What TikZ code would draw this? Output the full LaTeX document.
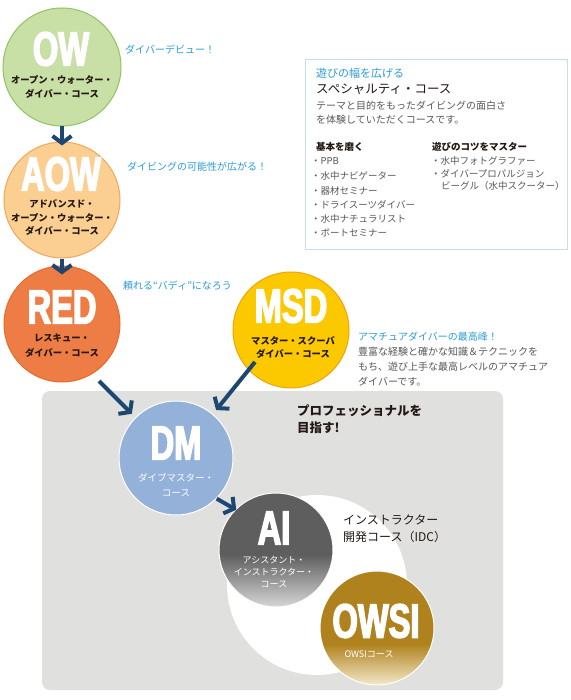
\documentclass[tikz,border=0pt]{standalone}
\usepackage{fontspec}
\setmainfont{Noto Sans CJK JP}
\newfontfamily\condfont[FakeStretch=0.68,FakeBold=3]{Liberation Sans}
\usetikzlibrary{arrows.meta}
\definecolor{owfill}{HTML}{C8E0A6}
\definecolor{owline}{HTML}{8FC460}
\definecolor{aowfill}{HTML}{FBCF92}
\definecolor{aowline}{HTML}{F2A65A}
\definecolor{redfill}{HTML}{EE7D45}
\definecolor{redline}{HTML}{E8692A}
\definecolor{msdfill}{HTML}{FCC800}
\definecolor{msdline}{HTML}{F0A30A}
\definecolor{dmfill}{HTML}{94B1D9}
\definecolor{aitop}{HTML}{5F5E5E}
\definecolor{aibot}{HTML}{D6D6D6}
\definecolor{owsitop}{HTML}{B0821E}
\definecolor{owsibot}{HTML}{F3E9C9}
\definecolor{arrowblue}{HTML}{1B4772}
\definecolor{noteblue}{HTML}{2A9CD7}
\definecolor{txtgray}{HTML}{595757}
\definecolor{txtblack}{HTML}{231815}
\definecolor{grayback}{HTML}{E0E0DF}
\definecolor{boxblue}{HTML}{C4DDEF}
\pgfdeclareverticalshading{aishade}{100bp}{color(0bp)=(aibot); color(25bp)=(aibot); color(48bp)=(aitop); color(100bp)=(aitop)}
\pgfdeclareverticalshading{owsishade}{100bp}{color(0bp)=(owsibot); color(25bp)=(owsibot); color(43bp)=(owsitop); color(100bp)=(owsitop)}
\begin{document}
\begin{tikzpicture}[x=1pt,y=-1pt,
  course/.style={circle, inner sep=0pt, line width=1pt},
  biglabel/.style={font=\condfont\bfseries\fontsize{48}{48}\selectfont, text=white, inner sep=0pt},
  subblack/.style={font=\bfseries\fontsize{9.3}{#1}\selectfont, text=txtblack, align=center, inner sep=0pt},
  subwhite/.style={font=\fontsize{9.5}{#1}\selectfont, text=white, align=center, inner sep=0pt},
  note/.style={font=\fontsize{10}{12}\selectfont, text=noteblue, anchor=west, inner sep=0pt},
  graytext/.style={font=\fontsize{10}{12}\selectfont, text=txtgray, anchor=west, inner sep=0pt},
  listtext/.style={font=\fontsize{9.5}{12}\selectfont, text=txtgray, anchor=west, inner sep=0pt},
  headtext/.style={font=\bfseries\fontsize{9.5}{12}\selectfont, text=txtblack, anchor=west, inner sep=0pt},
  arr/.style={draw=arrowblue, line width=4pt, -{Straight Barb[length=7pt, width=19pt, sharp]}}
]
\useasboundingbox (0,0) rectangle (570,700);
\fill[white] (0,0) rectangle (570,700);

% professional area
\fill[grayback, rounded corners=8pt] (42,391) rectangle (503,690);
\node[circle, fill=white, inner sep=0pt, minimum size=180pt] (idc) at (317,585) {};

% specialty box
\node[draw=boxblue, line width=1pt, fill=white, minimum width=262pt, minimum height=190pt, anchor=north west, inner sep=0pt] (spbox) at (305,59) {};
\node[font=\fontsize{11}{13}\selectfont, text=noteblue, anchor=west, inner sep=0pt] (sp1) at (316,73) {遊びの幅を広げる};
\node[font=\fontsize{12.5}{14}\selectfont, text=txtblack, anchor=west, inner sep=0pt] (sp2) at (316,89) {スペシャルティ・コース};
\node[graytext] (sp3) at (316,106) {テーマと目的をもったダイビングの面白さ};
\node[graytext] (sp4) at (316,120) {を体験していただくコースです。};
\node[headtext] (h1) at (316,147) {基本を磨く};
\node[headtext] (h2) at (432,147) {遊びのコツをマスター};
\node[listtext] (l1) at (311,161) {・PPB};
\node[listtext] (l2) at (311,176) {・水中ナビゲーター};
\node[listtext] (l3) at (311,191) {・器材セミナー};
\node[listtext] (l4) at (311,205) {・ドライスーツダイバー};
\node[listtext] (l5) at (311,219) {・水中ナチュラリスト};
\node[listtext] (l6) at (311,233) {・ボートセミナー};
\node[listtext] (r1) at (431,161) {・水中フォトグラファー};
\node[listtext] (r2) at (431,174) {・ダイバープロパルジョン};
\node[listtext] (r3) at (441,186) {ビーグル（水中スクーター）};

% course circles
\node[course, fill=owfill, draw=owline, minimum size=118pt] (ow) at (62,67) {};
\node[biglabel] (owl) at (61,49) {OW};
\node[subblack=14pt] (ows) at (62,87) {オープン・ウォーター・\\ダイバー・コース};

\node[course, fill=aowfill, draw=aowline, minimum size=116pt] (aow) at (62,200) {};
\node[biglabel] (aowl) at (61,174) {AOW};
\node[subblack=13.5pt] (aows) at (62,217.5) {アドバンスド・\\オープン・ウォーター・\\ダイバー・コース};

\node[course, fill=redfill, draw=redline, minimum size=116pt] (red) at (62,324) {};
\node[biglabel] (redl) at (62,307) {RED};
\node[subblack=15pt] (reds) at (62,345.5) {レスキュー・\\ダイバー・コース};

\node[course, fill=msdfill, draw=msdline, minimum size=116pt] (msd) at (291,330) {};
\node[biglabel] (msdl) at (291,306) {MSD};
\node[subblack=13.5pt] (msds) at (293,347.5) {マスター・スクーバ\\ダイバー・コース};

\node[course, fill=dmfill, draw=white, minimum size=114pt] (dm) at (176,458) {};
\node[biglabel] (dml) at (176,443) {DM};
\node[subwhite=15pt] (dms) at (176,485.5) {ダイブマスター・\\コース};

\node[course, shading=aishade, draw=white, minimum size=114pt] (ai) at (276,550) {};
\node[biglabel] (ail) at (274,528) {AI};
\node[subwhite=12pt, font=\fontsize{9}{12}\selectfont] (ais) at (274,572) {アシスタント・\\インストラクター・\\コース};

\node[course, shading=owsishade, draw=white, minimum size=114pt] (owsi) at (377,628) {};
\node[biglabel] (owsil) at (376,621) {OWSI};
\node[subwhite=12pt, font=\fontsize{9}{12}\selectfont] (owsis) at (369,654) {OWSIコース};

% notes
\node[note] (n1) at (125,50) {ダイバーデビュー！};
\node[note] (n2) at (127,167) {ダイビングの可能性が広がる！};
\node[note] (n3) at (123,286) {頼れる“バディ”になろう};
\node[note] (n4) at (358,337) {アマチュアダイバーの最高峰！};
\node[graytext] (n5) at (358,352) {豊富な経験と確かな知識＆テクニックを};
\node[graytext] (n6) at (358,367) {もち、遊び上手な最高レベルのアマチュア};
\node[graytext] (n7) at (358,382) {ダイバーです。};

\node[font=\bfseries\fontsize{12.5}{17}\selectfont, text=txtblack, align=left, anchor=north west, inner sep=0pt] (pro) at (297,404) {プロフェッショナルを\\目指す!};
\node[font=\fontsize{12}{17}\selectfont, text=txtblack, align=left, anchor=north west, inner sep=0pt] (idct) at (343,515) {インストラクター\\開発コース（IDC）};

% connectors
\coordinate (redout) at (99,381);
\coordinate (msdout) at (255,362);
\draw[arr, shorten >=-4pt] (ow) -- (aow);
\draw[arr, shorten >=-9pt] (aow) -- (red);
\draw[arr, shorten >=5pt] (redout) -- (dm.135);
\draw[arr, shorten >=5pt] (msdout) -- (dm.50);
\draw[arr, shorten >=-1pt] (dm.-45) -- (ai.135);
\end{tikzpicture}
\end{document}
